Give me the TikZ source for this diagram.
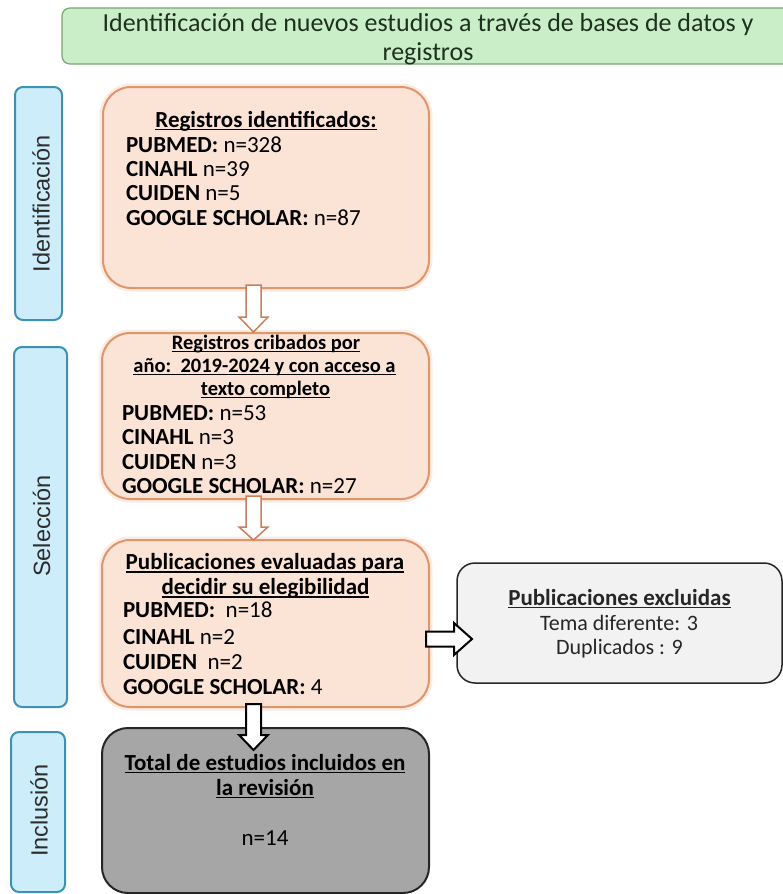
\documentclass[tikz,border=0pt]{standalone}
\usepackage{fontspec}
\setmainfont{Carlito}
\newfontfamily\sidefont{Liberation Sans}
\usetikzlibrary{calc}
\newsavebox\myulbox
\newcommand\myul[1]{\sbox\myulbox{#1}\rlap{\rule[-3pt]{\wd\myulbox}{1.1pt}}\usebox\myulbox}
\definecolor{hdrfill}{RGB}{202,239,200}
\definecolor{hdrline}{RGB}{120,165,115}
\definecolor{hdrtxt}{RGB}{30,48,30}
\definecolor{sidefill}{RGB}{204,237,249}
\definecolor{sideline}{RGB}{60,145,180}
\definecolor{ofill}{RGB}{251,227,214}
\definecolor{oline}{RGB}{222,150,108}
\definecolor{oarrow}{RGB}{200,128,90}
\definecolor{exfill}{RGB}{242,242,242}
\definecolor{incfill}{RGB}{166,166,166}
\definecolor{darktxt}{RGB}{38,38,38}
\definecolor{sidetext}{RGB}{45,45,45}
\newcommand\hollowdown[4]{\draw[#1] ($(#2)+(-7.5,0)$) -- ($(#3)+(-7.5,-#4)$) -- ($(#3)+(-14.5,-#4)$) -- (#3) -- ($(#3)+(14.5,-#4)$) -- ($(#3)+(7.5,-#4)$) -- ($(#2)+(7.5,0)$) -- cycle;}
\begin{document}
\begin{tikzpicture}[x=1pt,y=-1pt,
  every node/.style={inner sep=0pt, outer sep=0pt},
  hdr/.style={draw=hdrline, fill=hdrfill, line width=1.2pt, rounded corners=8pt, anchor=north west},
  side/.style={draw=sideline, fill=sidefill, line width=2pt, rounded corners=8pt, anchor=north west},
  obox/.style={draw=oline, fill=ofill, line width=2pt, rounded corners=28pt, anchor=north west, preaction={draw=ofill!70, line width=7pt}},
  exbox/.style={draw=darktxt, fill=exfill, line width=1.5pt, rounded corners=18pt, anchor=north west},
  incbox/.style={draw=darktxt, fill=incfill, line width=2pt, rounded corners=26pt, anchor=north west},
  txt/.style={font=\fontsize{23}{25}\selectfont, anchor=base west},
  ctxt/.style={font=\fontsize{23}{25}\selectfont, anchor=base},
  stxt/.style={font=\fontsize{20.5}{23}\selectfont, anchor=base},
  sidelabel/.style={font=\sidefont\fontsize{23.5}{26}\selectfont, text=sidetext, rotate=90, anchor=base},
  oarr/.style={draw=oarrow, fill=white, line width=1.5pt, line join=miter},
  karr/.style={draw=black, fill=white, line width=2pt, line join=miter},
]
\useasboundingbox (0,0) rectangle (783,894);

% header (runs off the right edge)
\node[hdr, minimum width=732pt, minimum height=56pt] (hdr) at (62,8) {};
\node[font=\fontsize{26}{29}\selectfont, text=hdrtxt, anchor=base] (h1) at (428,31) {Identificación de nuevos estudios a través de bases de datos y};
\node[font=\fontsize{26}{29}\selectfont, text=hdrtxt, anchor=base] (h2) at (428,60) {registros};

% side boxes
\node[side, minimum width=47pt, minimum height=233pt] (ids) at (15,87) {};
\node[side, minimum width=53pt, minimum height=360pt] (sel) at (14,347) {};
\node[side, minimum width=54pt, minimum height=160pt] (inc) at (11,732) {};
\node[sidelabel] (idl) at (49.5,203.5) {Identificación};
\node[sidelabel] (sell) at (50,526) {Selección};
\node[sidelabel] (incl) at (47.5,810.5) {Inclusión};

% main boxes
\node[obox, minimum width=326pt, minimum height=201pt] (b1) at (103,87) {};
\node[obox, minimum width=327pt, minimum height=166pt] (b2) at (102,333) {};
\node[obox, minimum width=327pt, minimum height=167pt] (b3) at (102,540) {};
\node[exbox, minimum width=325pt, minimum height=120pt] (ex) at (457,563) {};
\node[incbox, minimum width=327pt, minimum height=165pt] (b4) at (102,728) {};

% box 1 text
\node[ctxt] (b1t) at (266,127) {\textbf{\myul{Registros identificados:}}};
\node[txt] (b1a) at (126,152) {\textbf{PUBMED:} n=328};
\node[txt] (b1b) at (126,176.5) {\textbf{CINAHL} n=39};
\node[txt] (b1c) at (126,200.5) {\textbf{CUIDEN} n=5};
\node[txt] (b1d) at (126,225.5) {\textbf{GOOGLE SCHOLAR:} n=87};

% box 2 text
\node[stxt] (b2t1) at (266,349) {\textbf{\myul{Registros cribados por}}};
\node[stxt] (b2t2) at (264.5,372) {\textbf{\myul{año:\ \ 2019-2024 y con acceso a}}};
\node[stxt] (b2t3) at (265.5,395) {\textbf{\myul{texto completo}}};
\node[txt] (b2a) at (122,420) {\textbf{PUBMED:} n=53};
\node[txt] (b2b) at (122,444) {\textbf{CINAHL} n=3};
\node[txt] (b2c) at (122,469) {\textbf{CUIDEN} n=3};
\node[txt] (b2d) at (122,493) {\textbf{GOOGLE SCHOLAR:} n=27};

% box 3 text
\node[ctxt] (b3t1) at (265,569.5) {\textbf{\myul{Publicaciones evaluadas para}}};
\node[ctxt] (b3t2) at (265.5,594.5) {\textbf{\myul{decidir su elegibilidad}}};
\node[txt] (b3a) at (123,617) {\textbf{PUBMED:}\ \ n=18};
\node[txt] (b3b) at (123,644) {\textbf{CINAHL} n=2};
\node[txt] (b3c) at (123,669) {\textbf{CUIDEN}\ \ n=2};
\node[txt] (b3d) at (123,694) {\textbf{GOOGLE SCHOLAR:} 4};

% excluded text
\node[ctxt, text=darktxt] (ext) at (619.5,605) {\textbf{\myul{Publicaciones excluidas}}};
\node[ctxt, text=darktxt, font=\fontsize{22}{24}\selectfont] (exa) at (619,630) {Tema diferente: 3};
\node[ctxt, text=darktxt, font=\fontsize{22}{24}\selectfont] (exb) at (619.5,654) {Duplicados : 9};

% box 4 text
\node[ctxt] (b4t1) at (265,770) {\textbf{\myul{Total de estudios incluidos en}}};
\node[ctxt] (b4t2) at (265,795) {\textbf{\myul{la revisión}}};
\node[ctxt] (b4n) at (265,845) {n=14};

% arrows
\coordinate (a1s) at ($(b1.south)+(-12.5,-3)$);
\coordinate (a1t) at ($(b2.north)+(-12,-1)$);
\hollowdown{oarr}{a1s}{a1t}{15}
\coordinate (a2s) at ($(b2.south)+(-12,-3)$);
\coordinate (a2t) at ($(b3.north)+(-12,0)$);
\hollowdown{oarr}{a2s}{a2t}{13}
\coordinate (a3s) at ($(b3.south)+(-12,-3)$);
\coordinate (a3t) at ($(b4.north)+(-12,22)$);
\hollowdown{karr}{a3s}{a3t}{15}

\coordinate (r1s) at ($(b3.east)+(-3,15.5)$);
\coordinate (r1t) at ($(r1s -| ex.west)+(15,0)$);
\draw[karr] ($(r1s)+(0,-7.5)$) -- ($(r1t)+(-18,-7.5)$) -- ($(r1t)+(-18,-16)$) -- (r1t) -- ($(r1t)+(-18,16)$) -- ($(r1t)+(-18,7.5)$) -- ($(r1s)+(0,7.5)$) -- cycle;
\end{tikzpicture}
\end{document}
